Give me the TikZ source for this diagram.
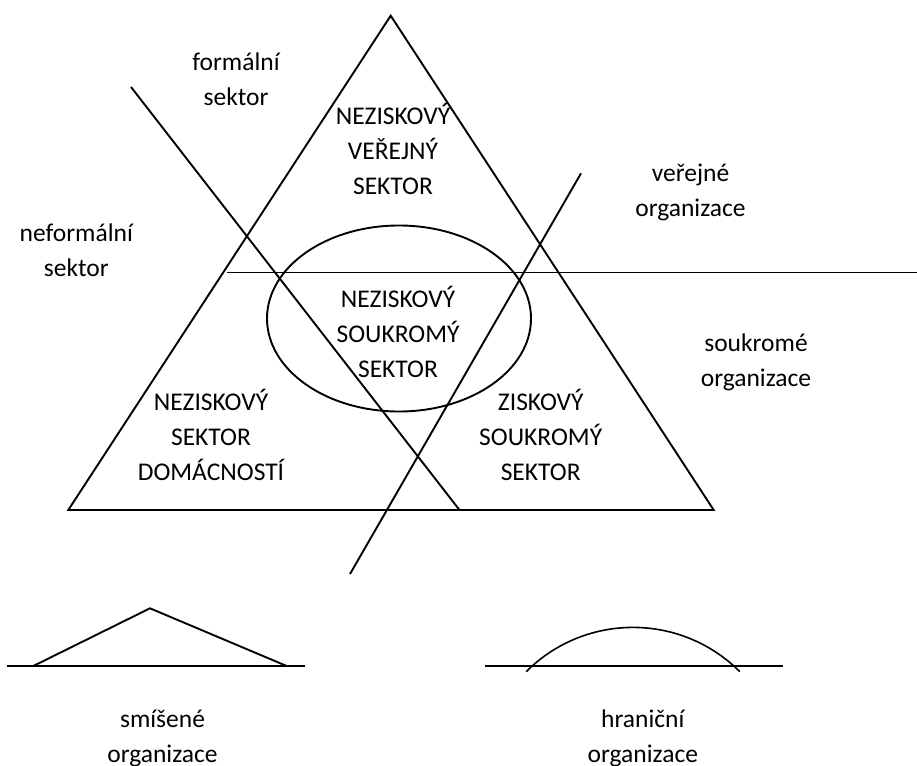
\documentclass[tikz,border=0pt]{standalone}
\usepackage{fontspec}
\setmainfont{Carlito}
\begin{document}
\begin{tikzpicture}[x=1pt,y=1pt,
  ln/.style={line width=1.9pt, line join=miter},
  lbl/.style={font=\fontsize{25.5}{35}\selectfont, align=center, anchor=base, inner sep=0pt}]
\useasboundingbox (0,0) rectangle (917,-765);
% main triangle
\coordinate (apex) at (390.7,-15.7);
\coordinate (bl) at (68.3,-510);
\coordinate (br) at (713.7,-510);
\draw[ln] (apex) -- (bl) -- (br) -- cycle;
% dividing lines
\coordinate (l1a) at (131,-87);
\coordinate (l1b) at (459.5,-510);
\draw[ln] (l1a) -- (l1b);
\coordinate (l2a) at (581,-173.3);
\coordinate (l2b) at (350,-574);
\draw[ln] (l2a) -- (l2b);
\coordinate (h1) at (227,-272.5);
\coordinate (h2) at (917,-272.5);
\draw[ln] (h1) -- (h2);
% ellipse
\coordinate (ec) at (399,-318.5);
\draw[ln] (ec) ellipse [x radius=132, y radius=93];
% texts (anchored at the baseline of the last line)
\node[lbl] (formal) at (236,-106) {formální\\sektor};
\node[lbl] (nvs) at (393,-194.5) {NEZISKOVÝ\\VEŘEJNÝ\\SEKTOR};
\node[lbl] (neformal) at (76.3,-276.7) {neformální\\sektor};
\node[lbl] (verejne) at (690.5,-216.7) {veřejné\\organizace};
\node[lbl] (nss) at (398,-377.3) {NEZISKOVÝ\\SOUKROMÝ\\SEKTOR};
\node[lbl] (nsd) at (211,-480.5) {NEZISKOVÝ\\SEKTOR\\DOMÁCNOSTÍ};
\node[lbl] (zss) at (540.7,-480.3) {ZISKOVÝ\\SOUKROMÝ\\SEKTOR};
\node[lbl] (soukrome) at (756,-386) {soukromé\\organizace};
% mixed organizations
\coordinate (m1) at (7.3,-666);
\coordinate (m2) at (305,-666);
\draw[ln] (m1) -- (m2);
\coordinate (ta) at (33.3,-666);
\coordinate (tb) at (150,-608.3);
\coordinate (tc) at (286.7,-666);
\draw[ln] (ta) -- (tb) -- (tc);
\node[lbl] (smisene) at (162.5,-762) {smíšené\\organizace};
% boundary organizations
\coordinate (b1) at (485.3,-666);
\coordinate (b2) at (782.7,-666);
\draw[ln] (b1) -- (b2);
\coordinate (ac) at (633,-778.4);
\draw[line width=1.6pt] ([shift={(135:151)}]ac) arc[start angle=135, end angle=45, radius=151];
\node[lbl] (hranicni) at (642.8,-762) {hraniční\\organizace};
\end{tikzpicture}
\end{document}
